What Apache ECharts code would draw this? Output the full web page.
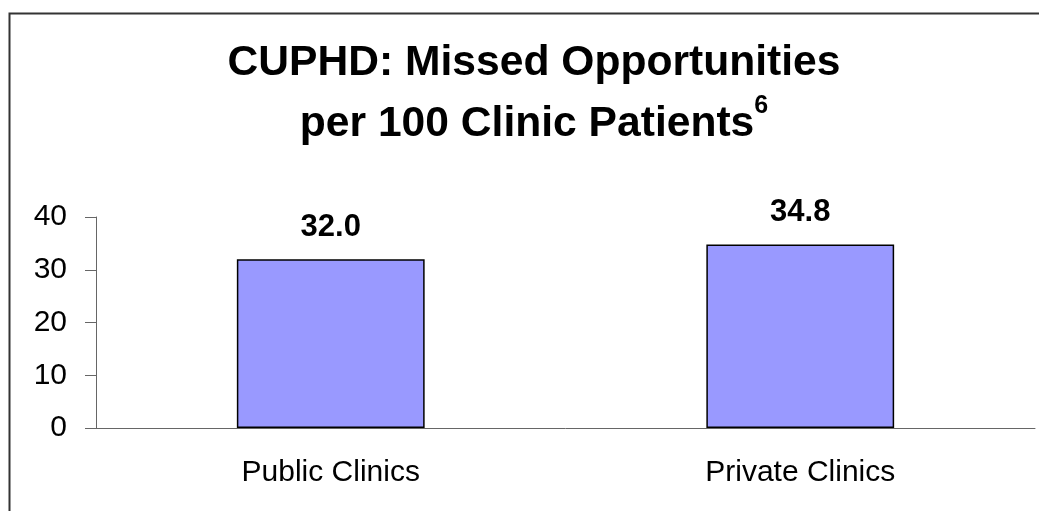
<!DOCTYPE html>
<html>
<head>
<meta charset="utf-8">
<script src="https://cdn.jsdelivr.net/npm/echarts@6/dist/echarts.min.js"></script>
<style>
  html, body { margin: 0; padding: 0; background: #fff; }
  #main { width: 1039px; height: 511px; }
</style>
</head>
<body>
<div id="main"></div>
<script>
// data
var categories = ['Public Clinics', 'Private Clinics'];
var missed = [32.0, 34.8];
var yTicks = [0, 10, 20, 30, 40];

var chart = echarts.init(document.getElementById('main'));

var font = 'Liberation Sans, Arial, sans-serif';

var option = {
  animation: false,
  textStyle: { fontFamily: font },
  // outer frame
  graphic: [{
    type: 'rect',
    left: 7, top: 11,
    shape: { width: 1100, height: 600 },
    style: { fill: 'none', stroke: '#333', lineWidth: 2 },
    silent: true
  }],
  title: {
    text: '{t|CUPHD: Missed Opportunities}\n{t|per 100 Clinic Patients}{sup|6}',
    left: 529,
    textAlign: 'center',
    top: 28,
    textStyle: {
      rich: {
        t: { fontSize: 42.6, fontWeight: 'bold', color: '#000', lineHeight: 61, fontFamily: font },
        sup: { fontSize: 25, fontWeight: 'bold', color: '#000', lineHeight: 33, verticalAlign: 'top', fontFamily: font }
      }
    }
  },
  grid: { left: 96, right: 4, top: 217, bottom: 83 },
  xAxis: {
    type: 'category',
    data: categories,
    axisLine: { lineStyle: { color: '#666', width: 1 } },
    axisTick: { length: 10, lineStyle: { color: '#666' } },
    axisLabel: { fontSize: 30, color: '#000', margin: 30 }
  },
  yAxis: {
    type: 'value',
    min: yTicks[0],
    max: yTicks[yTicks.length - 1],
    interval: 10,
    splitLine: { show: false },
    axisLine: { show: true, lineStyle: { color: '#666', width: 1 } },
    axisTick: { show: true, length: 11, lineStyle: { color: '#666' } },
    axisLabel: { fontSize: 30, color: '#000', margin: 29 }
  },
  series: [{
    type: 'bar',
    data: missed,
    barWidth: '40%',
    itemStyle: { color: '#9999FF', borderColor: '#000', borderWidth: 1.5 },
    label: {
      show: true,
      position: 'top',
      distance: 16,
      fontSize: 31,
      fontWeight: 'bold',
      color: '#000',
      formatter: function (p) { return p.value.toFixed(1); }
    }
  }]
};

chart.setOption(option);
</script>
</body>
</html>
